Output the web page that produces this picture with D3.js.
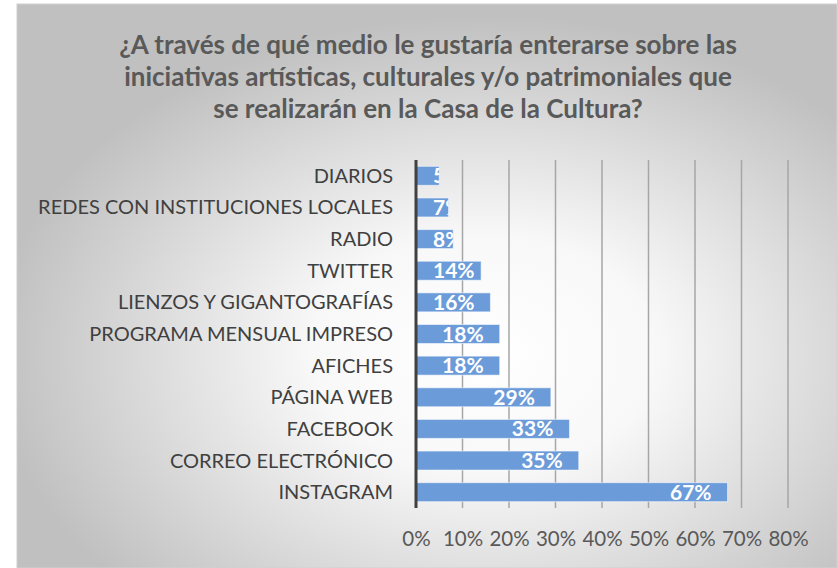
<!DOCTYPE html>
<html>
<head>
<meta charset="utf-8">
<script src="https://cdn.jsdelivr.net/npm/d3@7"></script>
<style>
  body { margin: 0; background: #fff; }
  svg { display: block; }
</style>
</head>
<body>
<div id="chart"></div>
<script>
// chart data
var categories = ["DIARIOS", "REDES CON INSTITUCIONES LOCALES", "RADIO", "TWITTER",
  "LIENZOS Y GIGANTOGRAFÍAS", "PROGRAMA MENSUAL IMPRESO", "AFICHES", "PÁGINA WEB",
  "FACEBOOK", "CORREO ELECTRÓNICO", "INSTAGRAM"];
var values = [0.05, 0.07, 0.08, 0.14, 0.16, 0.18, 0.18, 0.29, 0.33, 0.35, 0.67];
var tickValues = [0, 0.1, 0.2, 0.3, 0.4, 0.5, 0.6, 0.7, 0.8];
var titleLines = ["¿A través de qué medio le gustaría enterarse sobre las",
  "iniciativas artísticas, culturales y/o patrimoniales que",
  "se realizarán en la Casa de la Cultura?"];

var svgWidth = 837;
var svgHeight = 568;

// plot region inside the chart box
var plot = { left: 416, right: 788, top: 160, bottom: 508 };

var svg = d3.select("#chart")
  .append("svg")
  .attr("width", svgWidth)
  .attr("height", svgHeight);

var defs = svg.append("defs");

// grey radial background like the office chart
var grad = defs.append("radialGradient")
  .attr("id", "bg")
  .attr("cx", "57%")
  .attr("cy", "62%")
  .attr("r", "60%");
grad.append("stop").attr("offset", "0%").attr("stop-color", "#ffffff");
grad.append("stop").attr("offset", "35%").attr("stop-color", "#f8f8f8");
grad.append("stop").attr("offset", "100%").attr("stop-color", "#c0c0c0");

// little bit of blue text from the page above the chart
svg.append("text")
  .attr("x", 46)
  .attr("y", -4)
  .attr("font-family", "Lato, sans-serif")
  .attr("font-size", "16px")
  .attr("fill", "#2f5597")
  .text("y");

svg.append("rect")
  .attr("x", 17)
  .attr("y", 4)
  .attr("width", svgWidth - 17)
  .attr("height", svgHeight - 4)
  .attr("fill", "url(#bg)")
  .attr("stroke", "#d0d0d0")
  .attr("stroke-width", 1);

// title
svg.append("g")
  .selectAll("text")
  .data(titleLines)
  .enter()
  .append("text")
  .attr("x", 428)
  .attr("y", (d, i) => 54 + i * 32)
  .attr("text-anchor", "middle")
  .attr("font-family", "Lato, sans-serif")
  .attr("font-weight", "bold")
  .attr("font-size", "26px")
  .attr("fill", "#595959")
  .text(d => d);

// scales
var xScale = d3.scaleLinear()
  .domain([0, 0.8])
  .range([plot.left, plot.right]);

var yScale = d3.scaleBand()
  .domain(categories)
  .range([plot.top, plot.bottom])
  .paddingInner(0.4)
  .paddingOuter(0.2);

// vertical gridlines
svg.append("g")
  .selectAll("line")
  .data(tickValues.slice(1))
  .enter()
  .append("line")
  .attr("x1", d => xScale(d))
  .attr("x2", d => xScale(d))
  .attr("y1", plot.top)
  .attr("y2", plot.bottom)
  .attr("stroke", "#a6a6a6")
  .attr("stroke-width", 1.5);

// x axis, only the labels
var xAxis = d3.axisBottom(xScale)
  .tickValues(tickValues)
  .tickFormat(d3.format(".0%"))
  .tickSize(0)
  .tickPadding(0);

var xAxisG = svg.append("g")
  .attr("transform", `translate(0, ${plot.bottom})`)
  .call(xAxis);
xAxisG.select(".domain").remove();
xAxisG.selectAll("text")
  .attr("y", 38)
  .attr("dy", null)
  .attr("font-family", "Lato, sans-serif")
  .attr("font-size", "20.5px")
  .attr("fill", "#595959");

// bars
var barGroup = svg.append("g");
barGroup.selectAll("rect")
  .data(values)
  .enter()
  .append("rect")
  .attr("x", xScale(0))
  .attr("y", (d, i) => yScale(categories[i]))
  .attr("width", d => xScale(d) - xScale(0))
  .attr("height", yScale.bandwidth())
  .attr("fill", "#6b9bd9")
  .attr("stroke", "rgba(255,255,255,0.55)")
  .attr("stroke-width", 1);

// clip each label to its bar
values.forEach(function(v, i) {
  defs.append("clipPath")
    .attr("id", "clip" + i)
    .append("rect")
    .attr("x", xScale(0))
    .attr("y", yScale(categories[i]))
    .attr("width", xScale(v) - xScale(0))
    .attr("height", yScale.bandwidth());
});

var labels = svg.append("g")
  .selectAll("text")
  .data(values)
  .enter()
  .append("text")
  .attr("clip-path", (d, i) => `url(#clip${i})`)
  .attr("y", (d, i) => yScale(categories[i]) + yScale.bandwidth() / 2 + 7.5)
  .attr("text-anchor", "end")
  .attr("font-family", "Lato, sans-serif")
  .attr("font-weight", "bold")
  .attr("font-size", "21px")
  .attr("fill", "#ffffff")
  .text(d => d3.format(".0%")(d));

// inside end, but never starting closer to the axis than 17px
labels.attr("x", function(d) {
  var w = this.getComputedTextLength();
  return Math.max(xScale(d) - 16, xScale(0) + 17 + w);
});

// y axis line and category names
svg.append("line")
  .attr("x1", xScale(0))
  .attr("x2", xScale(0))
  .attr("y1", plot.top)
  .attr("y2", plot.bottom)
  .attr("stroke", "#404040")
  .attr("stroke-width", 3);

svg.append("g")
  .selectAll("text")
  .data(categories)
  .enter()
  .append("text")
  .attr("x", 393)
  .attr("y", d => yScale(d) + yScale.bandwidth() / 2 + 7)
  .attr("text-anchor", "end")
  .attr("font-family", "Lato, sans-serif")
  .attr("font-size", "20px")
  .attr("fill", "#404040")
  .text(d => d);
</script>
</body>
</html>
